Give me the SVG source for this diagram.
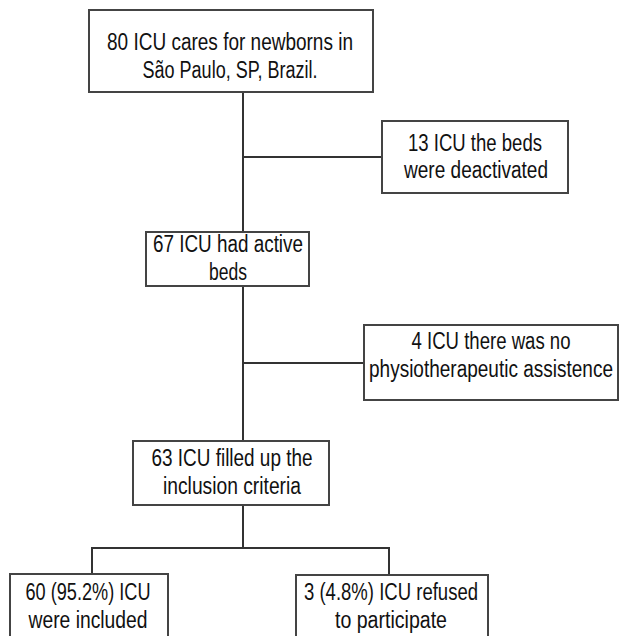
<svg xmlns="http://www.w3.org/2000/svg" width="620" height="636" viewBox="0 0 620 636">
<style>
.box{fill:#fff;stroke:#444;stroke-width:2}
.ln{stroke:#333;stroke-width:2;fill:none}
text{font-family:"Liberation Sans",Arial,sans-serif;font-size:23px;fill:#111;text-anchor:middle}
</style>
<rect width="620" height="636" fill="#fff"/>
<g id="connectors">
<path class="ln" d="M243 92V232M243 286V441M243 505V548M243 157H382M243 363H364M92 574V548H389V575"/>
</g>
<g id="n1"><rect class="box" x="89" y="10" width="284" height="82"/>
<text x="230" y="50" textLength="246" lengthAdjust="spacingAndGlyphs">80 ICU cares for newborns in</text>
<text x="230" y="78" textLength="175" lengthAdjust="spacingAndGlyphs">São Paulo, SP, Brazil.</text></g>
<g id="n2"><rect class="box" x="382" y="121" width="186" height="72"/>
<text x="475" y="151" textLength="134" lengthAdjust="spacingAndGlyphs">13 ICU the beds</text>
<text x="476" y="178" textLength="144" lengthAdjust="spacingAndGlyphs">were deactivated</text></g>
<g id="n3"><rect class="box" x="146" y="232" width="163" height="54"/>
<text x="228" y="252" textLength="150" lengthAdjust="spacingAndGlyphs">67 ICU had active</text>
<text x="228" y="280" textLength="38" lengthAdjust="spacingAndGlyphs">beds</text></g>
<g id="n4"><rect class="box" x="364" y="325" width="254" height="75"/>
<text x="491" y="349" textLength="159" lengthAdjust="spacingAndGlyphs">4 ICU there was no</text>
<text x="491" y="377" textLength="244" lengthAdjust="spacingAndGlyphs">physiotherapeutic assistence</text></g>
<g id="n5"><rect class="box" x="133" y="441" width="196" height="64"/>
<text x="232" y="466" textLength="161" lengthAdjust="spacingAndGlyphs">63 ICU filled up the</text>
<text x="232" y="494" textLength="138" lengthAdjust="spacingAndGlyphs">inclusion criteria</text></g>
<g id="n6"><rect class="box" x="10" y="574" width="158" height="70"/>
<text x="88" y="600" textLength="125" lengthAdjust="spacingAndGlyphs">60 (95.2%) ICU</text>
<text x="88" y="628" textLength="119" lengthAdjust="spacingAndGlyphs">were included</text></g>
<g id="n7"><rect class="box" x="296" y="575" width="192" height="70"/>
<text x="391" y="600" textLength="174" lengthAdjust="spacingAndGlyphs">3 (4.8%) ICU refused</text>
<text x="391" y="628" textLength="112" lengthAdjust="spacingAndGlyphs">to participate</text></g>
</svg>
